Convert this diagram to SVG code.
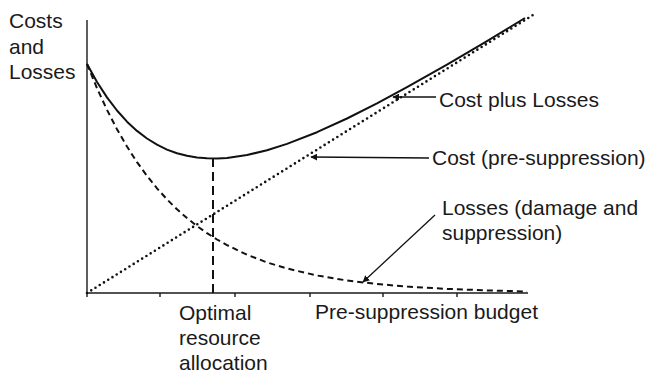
<svg xmlns="http://www.w3.org/2000/svg" width="649" height="373" viewBox="0 0 649 373">
<defs>
<style>
.t{font-family:"Liberation Sans",Arial,sans-serif;font-size:21px;fill:#1a1a1a}
.ax{stroke:#1a1a1a;stroke-width:1.4;fill:none}
.total{stroke:#111;stroke-width:2;fill:none;stroke-linejoin:round}
.loss{stroke:#111;stroke-width:2;fill:none;stroke-dasharray:6 4}
.cost{stroke:#111;stroke-width:2.6;fill:none;stroke-dasharray:0 5;stroke-linecap:round}
.opt{stroke:#111;stroke-width:2;fill:none;stroke-dasharray:9 5}
.lead{stroke:#111;stroke-width:1.3;fill:none}
</style>
<marker id="ah" viewBox="0 0 10 10" refX="9" refY="5" markerWidth="7" markerHeight="7" orient="auto-start-reverse" markerUnits="userSpaceOnUse">
<path d="M0,0 L10,5 L0,10 z" fill="#111"/>
</marker>
</defs>
<g id="axes">
<line class="ax" x1="87" y1="20" x2="87" y2="293"/>
<line class="ax" x1="87" y1="293" x2="528" y2="293"/>
<path class="ax" d="M87,293v4M160,293v4M235,293v4M310,293v4M383,293v4M457,293v4"/>
</g>
<g id="curves">
<polyline id="cost-line" class="cost" points="87,293 533,15"/>
<polyline id="losses-curve" class="loss" points="87,64 97,88.2 107,109.9 117,129.2 127,146.6 137,162.1 147,175.9 157,188.3 167,199.4 177,209.3 187,218.1 197,226.1 207,233.1 217,239.5 227,245.1 247,254.7 267,262.4 287,268.5 317,275.5 347,280.5 377,284 407,286.6 447,288.9 487,290.4 527,291.5"/>
<polyline id="total-curve" class="total" points="87,64 97,82 107,97.4 117,110.5 127,121.7 137,130.9 147,138.5 157,144.7 167,149.6 177,153.2 187,155.8 197,157.6 207,158.3 217,158.5 227,157.9 247,155 267,150.3 287,143.9 317,132.2 347,118.5 377,103.3 407,87.2 447,64.6 487,41.2 525,18"/>
<line id="optimum" class="opt" x1="213" y1="158" x2="213" y2="293"/>
</g>
<g id="connectors">
<line class="lead" x1="436" y1="97" x2="393" y2="97" marker-end="url(#ah)"/>
<line class="lead" x1="429" y1="158" x2="311" y2="157" marker-end="url(#ah)"/>
<line class="lead" x1="435" y1="215" x2="363" y2="282" marker-end="url(#ah)"/>
</g>
<g id="label-yaxis">
<text class="t" x="9" y="28">Costs</text>
<text class="t" x="9" y="54">and</text>
<text class="t" x="9" y="79">Losses</text>
</g>
<g id="label-total"><text class="t" x="439" y="107">Cost plus Losses</text></g>
<g id="label-cost"><text class="t" x="432" y="165">Cost (pre-suppression)</text></g>
<g id="label-losses">
<text class="t" x="442" y="215">Losses (damage and</text>
<text class="t" x="442" y="240">suppression)</text>
</g>
<g id="label-optimal">
<text class="t" x="179" y="320">Optimal</text>
<text class="t" x="179" y="345">resource</text>
<text class="t" x="179" y="370">allocation</text>
</g>
<g id="label-xaxis"><text class="t" x="315" y="319">Pre-suppression budget</text></g>
</svg>
